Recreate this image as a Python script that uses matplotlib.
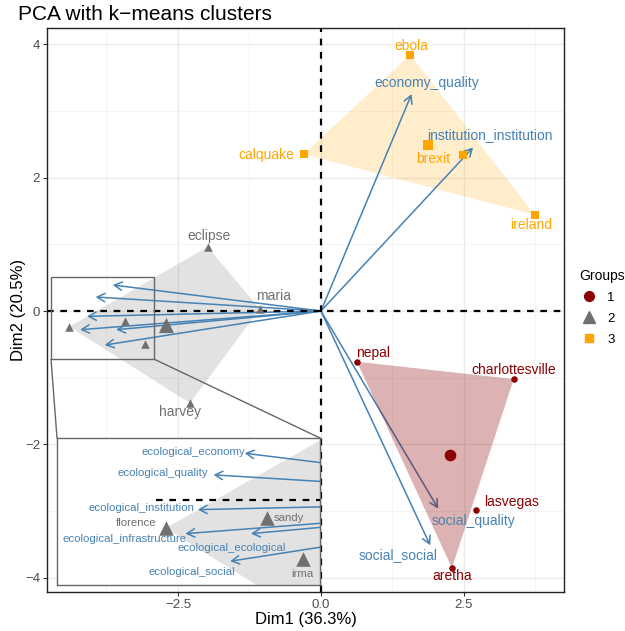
import numpy as np
import matplotlib
matplotlib.use("Agg")
import matplotlib.pyplot as plt
from matplotlib.patches import Polygon, Rectangle, ConnectionPatch, FancyArrowPatch
from matplotlib.lines import Line2D

plt.rcParams['font.family'] = ['Liberation Sans', 'DejaVu Sans']

# PCA individuals (Dim1, Dim2) and their k-means group
ind_names = ["nepal", "charlottesville", "lasvegas", "aretha",
             "eclipse", "maria", "harvey", "florence", "sandy", "irma",
             "ebola", "calquake", "brexit", "ireland"]
ind_x = [0.63, 3.37, 2.71, 2.29,
         -1.98, -1.07, -2.29, -4.40, -3.43, -3.08,
         1.56, -0.30, 2.48, 3.74]
ind_y = [-0.76, -1.02, -2.98, -3.85,
         0.96, 0.03, -1.38, -0.235, -0.15, -0.49,
         3.84, 2.35, 2.34, 1.44]
ind_group = [1, 1, 1, 1, 2, 2, 2, 2, 2, 2, 3, 3, 3, 3]

# hull outline per group, as drawn
hulls = {1: ["nepal", "charlottesville", "aretha"],
         2: ["eclipse", "maria", "harvey", "florence"],
         3: ["ebola", "ireland", "calquake"]}

# variable loadings (arrow tips)
var_names = ["ecological_economy", "ecological_quality", "ecological_institution",
             "ecological_infrastructure", "ecological_ecological", "ecological_social",
             "economy_quality", "institution_institution", "social_quality", "social_social"]
var_x = [-3.64, -3.94, -4.09, -4.21, -3.58, -3.78, 1.585, 2.66, 2.05, 1.91]
var_y = [0.39, 0.21, -0.08, -0.28, -0.28, -0.51, 3.25, 2.45, -2.96, -3.51]

# label placements (repelled text positions)
main_ind_labels = {"ebola": (1.59, 3.97), "calquake": (-0.96, 2.34), "brexit": (1.96, 2.28),
                   "ireland": (3.67, 1.29), "eclipse": (-1.96, 1.12), "maria": (-0.82, 0.22),
                   "harvey": (-2.47, -1.51), "nepal": (0.91, -0.63),
                   "charlottesville": (3.37, -0.88), "lasvegas": (3.34, -2.86),
                   "aretha": (2.29, -3.97)}
main_var_labels = {"economy_quality": (1.85, 3.42), "institution_institution": (2.95, 2.64),
                   "social_quality": (2.66, -3.15), "social_social": (1.35, -3.66)}
inset_ind_labels = {"florence": (-4.68, -0.194), "sandy": (-3.217, -0.152), "irma": (-3.087, -0.617)}
inset_var_labels = {"ecological_economy": (-4.135, 0.403), "ecological_quality": (-4.423, 0.223),
                    "ecological_institution": (-4.631, -0.069),
                    "ecological_infrastructure": (-4.80, -0.325),
                    "ecological_ecological": (-3.762, -0.4025),
                    "ecological_social": (-4.147, -0.5975)}

colours = {1: "#8B0000", 2: "#707070", 3: "#FFA500"}
markers = {1: "o", 2: "^", 3: "s"}
fill_alpha = {1: 0.3, 2: 0.2, 3: 0.2}
steelblue = "#4682B4"

ind_x = np.array(ind_x)
ind_y = np.array(ind_y)
ind_group = np.array(ind_group)
pos = {n: (x, y) for n, x, y in zip(ind_names, ind_x, ind_y)}


def draw_layers(ax, msize, csize, arrow_lw, with_centroid=True):
    for g in (1, 2, 3):
        poly = Polygon([pos[n] for n in hulls[g]], closed=True, facecolor=colours[g],
                       alpha=fill_alpha[g], edgecolor="none",
                       zorder=3 if g == 1 else 1)
        ax.add_patch(poly)
    for vx, vy in zip(var_x, var_y):
        arr = FancyArrowPatch((0, 0), (vx, vy),
                              arrowstyle="->,head_length=0.55,head_width=0.3",
                              mutation_scale=10, color=steelblue, lw=arrow_lw,
                              shrinkA=0, shrinkB=0, zorder=2)
        ax.add_patch(arr)
    for g in (1, 2, 3):
        m = ind_group == g
        ax.scatter(ind_x[m], ind_y[m], s=msize[g], marker=markers[g], color=colours[g],
                   linewidths=0, zorder=4)
        if with_centroid:
            ax.scatter([ind_x[m].mean()], [ind_y[m].mean()], s=csize[g], marker=markers[g],
                       color=colours[g], linewidths=0, zorder=4)


fig = plt.figure(figsize=(6.25, 6.31), dpi=100)
ax = fig.add_axes([0.0752, 0.0618, 0.8272, 0.8938])

ax.set_xlim(-4.79, 4.25)
ax.set_ylim(-4.21, 4.24)
ax.set_xticks([-2.5, 0, 2.5])
ax.set_xticklabels(["\u22122.5", "0.0", "2.5"])
ax.set_yticks([-4, -2, 0, 2, 4])
ax.set_yticklabels(["\u22124", "\u22122", "0", "2", "4"])
ax.set_xticks([-3.75, -1.25, 1.25, 3.75], minor=True)
ax.set_yticks([-3, -1, 1, 3], minor=True)
ax.grid(True, which="major", color="#EBEBEB", lw=1.0, zorder=0)
ax.grid(True, which="minor", color="#F2F2F2", lw=0.6, zorder=0)
ax.set_axisbelow(True)
ax.tick_params(which="major", length=3, pad=2, color="#333333", labelsize=9.5,
               labelcolor="#4D4D4D")
ax.tick_params(which="minor", length=0)
for s in ax.spines.values():
    s.set_color("#222222")
    s.set_linewidth(1.0)

ax.axhline(0, color="black", lw=1.6, ls=(0, (3, 3)), zorder=2.5)
ax.axvline(0, color="black", lw=1.6, ls=(0, (3, 3)), zorder=2.5)

draw_layers(ax, msize={1: 22, 2: 38, 3: 26}, csize={1: 70, 2: 120, 3: 60}, arrow_lw=1.1)

for n, (lx, ly) in main_ind_labels.items():
    g = ind_group[ind_names.index(n)]
    ax.text(lx, ly, n, color=colours[g], fontsize=10, ha="center", va="center", zorder=5)
for n, (lx, ly) in main_var_labels.items():
    ax.text(lx, ly, n, color=steelblue, fontsize=10, ha="center", va="center", zorder=5)

ax.set_xlabel("Dim1 (36.3%)", fontsize=12, labelpad=1)
ax.set_ylabel("Dim2 (20.5%)", fontsize=12, labelpad=-1)
fig.text(18 / 625, 1 - 15 / 631, "PCA with k\u2212means clusters", fontsize=15,
         ha="left", va="center")

# magnified area
rx0, rx1, ry0, ry1 = -4.72, -2.92, -0.72, 0.51
ax.add_patch(Rectangle((rx0, ry0), rx1 - rx0, ry1 - ry0, fill=False,
                       edgecolor="#666666", lw=1.0, zorder=6))

ax_in = fig.add_axes([57 / 625, 1 - 585 / 631, 263 / 625, 147 / 631])
ax_in.set_zorder(10)
ax_in.set_xlim(-5.445, -2.916)
ax_in.set_ylim(-0.708, 0.517)
ax_in.set_xticks([])
ax_in.set_yticks([])
for s in ax_in.spines.values():
    s.set_color("#666666")
    s.set_linewidth(1.0)
ax_in.hlines(0, -4.49, 0, color="black", lw=1.6, linestyles=(0, (3, 3)), zorder=2.5)
draw_layers(ax_in, msize={1: 60, 2: 110, 3: 60}, csize={1: 0, 2: 0, 3: 0},
            arrow_lw=1.1, with_centroid=False)
for n, (lx, ly) in inset_ind_labels.items():
    ax_in.text(lx, ly, n, color=colours[2], fontsize=8.2, ha="center", va="center", zorder=5)
for n, (lx, ly) in inset_var_labels.items():
    ax_in.text(lx, ly, n, color=steelblue, fontsize=8.2, ha="center", va="center", zorder=5)

for xa, xb in ((rx0, 0), (rx1, 1)):
    con = ConnectionPatch(xyA=(xa, ry0), coordsA=ax.transData, xyB=(xb, 1),
                          coordsB=ax_in.transAxes, color="#666666", lw=1.0)
    con.set_zorder(7)
    fig.add_artist(con)

handles = [Line2D([], [], ls="none", marker=markers[g], color=colours[g],
                  markersize={1: 7, 2: 8, 3: 6}[g]) for g in (1, 2, 3)]
fig.legend(handles, ["1", "2", "3"], title="Groups", loc="upper left",
           bbox_to_anchor=(574 / 625, 1 - 264 / 631), frameon=False, fontsize=9.5,
           title_fontsize=10, handlelength=1.5, handletextpad=0.6, labelspacing=0.65,
           borderaxespad=0, alignment="left")

fig.savefig("out.png", dpi=100)
